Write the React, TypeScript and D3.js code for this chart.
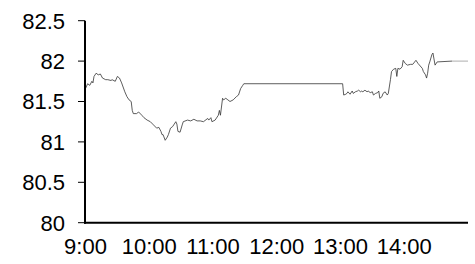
import * as d3 from "d3";

// intraday price, time as "H:MM"
const times = [
  "9:00", "9:02", "9:04", "9:06", "9:07", "9:08", "9:10", "9:12", "9:14", "9:16",
  "9:19", "9:21", "9:24", "9:25", "9:28", "9:30", "9:32", "9:34", "9:37", "9:39",
  "9:41", "9:43", "9:44", "9:45", "9:48", "9:50", "9:53", "9:55", "9:58", "10:01",
  "10:04", "10:07", "10:09", "10:11", "10:12", "10:13", "10:15", "10:17", "10:18", "10:20",
  "10:22", "10:23", "10:25", "10:26", "10:27", "10:29", "10:31", "10:32", "10:36", "10:39",
  "10:42", "10:45", "10:48", "10:51", "10:55", "10:56", "10:58", "10:59", "11:02", "11:05",
  "11:06", "11:07", "11:09", "11:10", "11:12", "11:14", "11:16", "11:19", "11:22", "11:24",
  "11:26", "11:28", "11:29", "13:02", "13:03", "13:05", "13:06", "13:07", "13:09", "13:11",
  "13:12", "13:14", "13:16", "13:17", "13:19", "13:20", "13:21", "13:23", "13:25", "13:26",
  "13:28", "13:30", "13:31", "13:33", "13:35", "13:36", "13:37", "13:39", "13:40", "13:42",
  "13:44", "13:45", "13:47", "13:48", "13:50", "13:52", "13:53", "13:54", "13:56", "13:58",
  "13:59", "14:01", "14:03", "14:06", "14:08", "14:11", "14:13", "14:17", "14:18", "14:20",
  "14:21", "14:22", "14:23", "14:24", "14:26", "14:27", "14:29", "14:31", "14:45", "15:00",
];

const prices = [
  81.66, 81.72, 81.7, 81.75, 81.73, 81.81, 81.85, 81.83, 81.84, 81.79,
  81.77, 81.77, 81.76, 81.77, 81.75, 81.81, 81.79, 81.73, 81.62, 81.56,
  81.52, 81.5, 81.39, 81.35, 81.35, 81.37, 81.33, 81.3, 81.27, 81.25,
  81.21, 81.17, 81.18, 81.13, 81.09, 81.09, 81.02, 81.06, 81.09, 81.17,
  81.19, 81.21, 81.25, 81.22, 81.13, 81.12, 81.21, 81.25, 81.27, 81.26,
  81.28, 81.26, 81.26, 81.25, 81.29, 81.27, 81.3, 81.25, 81.27, 81.33,
  81.39, 81.33, 81.54, 81.52, 81.54, 81.52, 81.5, 81.52, 81.56, 81.58,
  81.66, 81.7, 81.72, 81.72, 81.58, 81.59, 81.6, 81.62, 81.59, 81.63,
  81.6, 81.62, 81.63, 81.64, 81.62, 81.63, 81.62, 81.64, 81.62, 81.63,
  81.61, 81.62, 81.58, 81.6, 81.61, 81.63, 81.54, 81.56, 81.6, 81.62,
  81.58, 81.6, 81.77, 81.87, 81.9, 81.91, 81.81, 81.91, 81.9, 81.93,
  82.01, 81.97, 81.95, 81.96, 81.96, 82.01, 81.97, 81.91, 81.87, 81.83,
  81.79, 81.85, 81.95, 81.99, 82.08, 82.1, 81.95, 81.99, 82.0, 82.0,
];

const yTicks = [80, 80.5, 81, 81.5, 82, 82.5];
const xTicks = ["9:00", "10:00", "11:00", "12:00", "13:00", "14:00"];

const W = 475;
const H = 264;
const FONT = "Liberation Sans, Arial, sans-serif";
const FS = 22;

function toMin(t: string) {
  const [h, m] = t.split(":").map(Number);
  return (h - 9) * 60 + m;
}

export default function App() {
  const x = d3.scaleLinear().domain([0, 360]).range([85.5, 468]);
  const y = d3.scaleLinear().domain([80, 82.5]).range([222.7, 20.7]);

  const pts = times.map((t, i) => [toMin(t), prices[i]] as [number, number]);
  const line = d3
    .line<[number, number]>()
    .x((d) => x(d[0]))
    .y((d) => y(d[1]));

  const main = pts.slice(0, pts.length - 1);
  const tail = pts.slice(pts.length - 2);

  return (
    <div style={{ position: "fixed", left: 0, top: 0 }}>
      <svg width={W} height={H} style={{ display: "block", background: "#fff" }}>
        <path d={line(main) ?? ""} fill="none" stroke="#333" strokeWidth={0.8} />
        <path d={line(tail) ?? ""} fill="none" stroke="#999" strokeWidth={0.8} />

        {/* y axis */}
        <line x1={85} x2={85} y1={y(82.5)} y2={y(80) + 1} stroke="#000" strokeWidth={2} />
        {yTicks.map((v) => (
          <g key={v}>
            <line x1={78} x2={85} y1={y(v)} y2={y(v)} stroke="#000" strokeWidth={1} />
            <text
              x={65}
              y={y(v) + FS * 0.358}
              textAnchor="end"
              fontFamily={FONT}
              fontSize={FS}
              fill="#000"
            >
              {v}
            </text>
          </g>
        ))}

        {/* x axis */}
        <line x1={84} x2={468} y1={y(80)} y2={y(80)} stroke="#000" strokeWidth={2} />
        {xTicks.map((t) => (
          <text
            key={t}
            x={x(toMin(t))}
            y={254}
            textAnchor="middle"
            fontFamily={FONT}
            fontSize={FS}
            fill="#000"
          >
            {t}
          </text>
        ))}
      </svg>
    </div>
  );
}
